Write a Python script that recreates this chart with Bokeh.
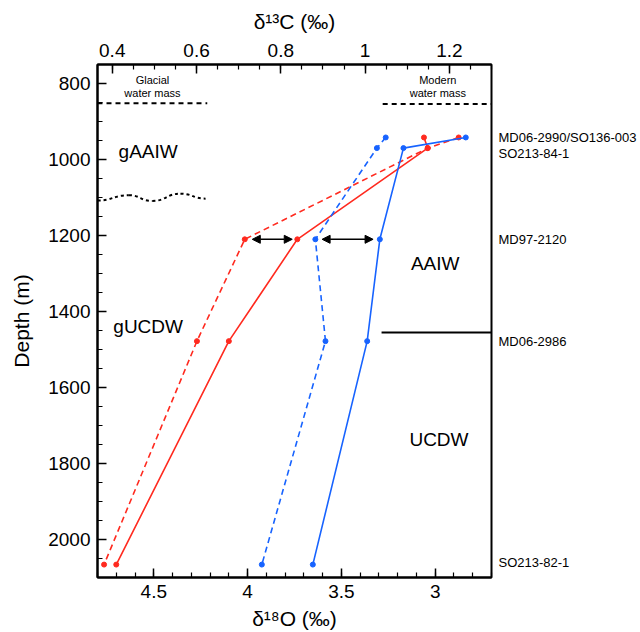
from bokeh.plotting import figure
from bokeh.models import Range1d, LinearAxis, FixedTicker, Arrow, NormalHead, AllLabels
from bokeh.core.properties import value
from bokeh.embed import file_html
from bokeh.resources import INLINE
import numpy as np

# ---------------- data ----------------
depth = [942, 970, 1210, 1478, 2066]
d18O_modern = [3.06, 3.04, 3.735, 4.10, 4.70]
d18O_glacial = [2.875, 3.04, 4.015, 4.27, 4.765]
d13C_modern = [1.239, 1.091, 1.035, 1.005, 0.876]
d13C_glacial = [1.049, 1.028, 0.882, 0.906, 0.755]

core_names = ["MD06-2990/SO136-003", "SO213-84-1", "MD97-2120", "MD06-2986", "SO213-82-1"]
core_label_depth = [942, 985, 1210, 1478, 2060]

region_names = ["gAAIW", "gUCDW", "AAIW", "UCDW"]
region_x = [4.53, 4.53, 3.0, 2.98]
region_depth = [978, 1439, 1273, 1736]

d18O_ticks = [4.5, 4.0, 3.5, 3.0]
d18O_tick_labels = ["4.5", "4", "3.5", "3"]
d13C_ticks = [0.4, 0.6, 0.8, 1.0, 1.2]
d13C_tick_labels = ["0.4", "0.6", "0.8", "1", "1.2"]
depth_ticks = [800, 1000, 1200, 1400, 1600, 1800, 2000]

RED = "#FF2A1F"
BLUE = "#1763FF"
FONT = "Liberation Sans"

p = figure(width=640, height=632, x_range=Range1d(4.8, 2.7), y_range=Range1d(2100, 750),
           output_backend="svg", toolbar_location=None,
           min_border_left=97, min_border_right=149, min_border_top=64, min_border_bottom=53)
p.extra_x_ranges = {"c13": Range1d(0.365, 1.30)}
p.xgrid.visible = False
p.ygrid.visible = False
p.outline_line_color = "black"
p.outline_line_width = 2
p.background_fill_color = "white"
p.border_fill_color = "white"

def style_axis(ax, tick_size="19px"):
    ax.axis_line_width = 2
    ax.axis_line_color = "black"
    ax.major_tick_in = 9
    ax.major_tick_out = 0
    ax.minor_tick_in = 5
    ax.minor_tick_out = 0
    ax.major_tick_line_width = 1.5
    ax.minor_tick_line_width = 1.2
    ax.major_label_text_font = FONT
    ax.major_label_text_font_size = tick_size
    ax.major_label_text_color = "black"
    ax.axis_label_text_font = FONT
    ax.axis_label_text_font_size = "21px"
    ax.axis_label_text_font_style = "normal"
    ax.axis_label_text_color = "black"

# bottom axis: d18O
xb = p.xaxis[0]
style_axis(xb)
xb.ticker = FixedTicker(ticks=d18O_ticks, minor_ticks=list(np.round(np.arange(2.7, 4.81, 0.1), 2)))
xb.major_label_overrides = dict(zip(d18O_ticks, d18O_tick_labels))
xb.axis_label = "δ¹⁸O (‰)"
xb.major_label_standoff = 7
xb.axis_label_standoff = 6

# left axis: depth
yl = p.yaxis[0]
style_axis(yl)
yl.ticker = FixedTicker(ticks=depth_ticks, minor_ticks=list(range(750, 2101, 50)))
yl.axis_label = "Depth (m)"
yl.major_label_standoff = 7
yl.axis_label_standoff = 12

# top axis: d13C
xt = LinearAxis(x_range_name="c13")
style_axis(xt)
xt.ticker = FixedTicker(ticks=d13C_ticks, minor_ticks=list(np.round(np.arange(0.4, 1.31, 0.05), 2)))
xt.major_label_overrides = dict(zip(d13C_ticks, d13C_tick_labels))
xt.axis_label = "δ¹³C (‰)"
xt.major_label_standoff = 8
xt.axis_label_standoff = 8
p.add_layout(xt, "above")

# right axis: core names
yr = LinearAxis()
yr.ticker = FixedTicker(ticks=core_label_depth, minor_ticks=[])
yr.major_label_overrides = dict(zip(core_label_depth, core_names))
yr.major_label_policy = AllLabels()
yr.axis_line_color = None
yr.major_tick_line_color = None
yr.minor_tick_line_color = None
yr.major_tick_in = 0
yr.major_tick_out = 0
yr.major_label_standoff = 7
yr.major_label_text_font = FONT
yr.major_label_text_font_size = "13px"
yr.major_label_text_color = "black"
p.add_layout(yr, "right")

# ---------------- series ----------------
p.line(d18O_glacial, depth, line_color=RED, line_width=1.6, line_dash="6 4")
p.scatter(d18O_glacial, depth, size=5, color=RED)
p.line(d18O_modern, depth, line_color=RED, line_width=1.6)
p.scatter(d18O_modern, depth, size=5, color=RED)
p.line(d13C_glacial, depth, line_color=BLUE, line_width=1.6, line_dash="6 4", x_range_name="c13")
p.scatter(d13C_glacial, depth, size=5, color=BLUE, x_range_name="c13")
p.line(d13C_modern, depth, line_color=BLUE, line_width=1.6, x_range_name="c13")
p.scatter(d13C_modern, depth, size=5, color=BLUE, x_range_name="c13")

# ---------------- annotations ----------------
# water-mass boundaries
p.line([4.8, 4.215], [852, 852], line_color="black", line_width=2, line_dash="5 4")
p.line([3.28, 2.7], [854, 854], line_color="black", line_width=2, line_dash="5 4")
p.line([3.286, 2.7], [1455, 1455], line_color="black", line_width=2)

# wavy boundary (glacial AAIW / UCDW)
wave_x = [4.8, 4.633, 4.508, 4.358, 4.224]
wave_y = [1108, 1094, 1109, 1090, 1103]
x0 = wave_x[:-1]; x1 = wave_x[1:]
y0 = wave_y[:-1]; y1 = wave_y[1:]
cx = [(a + b) / 2 for a, b in zip(x0, x1)]
p.bezier(x0=x0, y0=y0, x1=x1, y1=y1, cx0=cx, cy0=y0, cx1=cx, cy1=y1,
         line_color="black", line_width=2, line_dash="3 3")

# arrows
p.add_layout(Arrow(start=NormalHead(size=8, fill_color="black", line_color="black"),
                   end=NormalHead(size=8, fill_color="black", line_color="black"),
                   x_start=3.975, y_start=1210, x_end=3.762, y_end=1210,
                   line_color="black", line_width=1.5))
p.add_layout(Arrow(start=NormalHead(size=8, fill_color="black", line_color="black"),
                   end=NormalHead(size=8, fill_color="black", line_color="black"),
                   x_start=0.898, y_start=1210, x_end=1.019, y_end=1210,
                   x_range_name="c13", line_color="black", line_width=1.5))

# texts
p.text(x=region_x, y=region_depth, text=region_names, text_font=value(FONT),
       text_font_size="19px", text_align="center", text_baseline="middle", text_color="black")
p.text(x=[4.507, 4.507, 2.986, 2.986], y=[791, 826, 791, 826],
       text=["Glacial", "water mass", "Modern", "water mass"], text_font=value(FONT),
       text_font_size="11px", text_align="center", text_baseline="middle", text_color="black")

open("out.html", "w").write(file_html(p, INLINE))
